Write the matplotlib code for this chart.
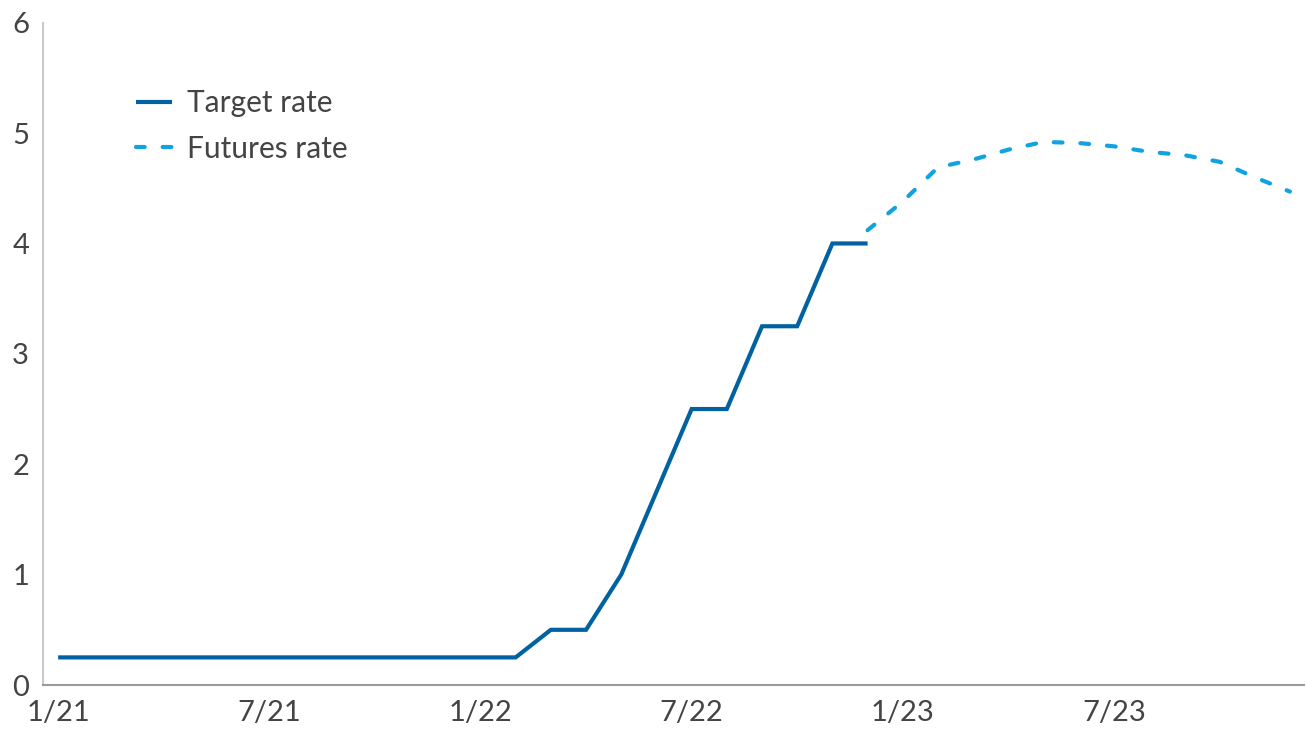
import matplotlib
matplotlib.use("Agg")
import matplotlib.pyplot as plt

# ---- data ----
target_months = list(range(0, 24))
target_rate = [0.25, 0.25, 0.25, 0.25, 0.25, 0.25, 0.25, 0.25, 0.25, 0.25, 0.25, 0.25,
               0.25, 0.25, 0.5, 0.5, 1.0, 1.75, 2.5, 2.5, 3.25, 3.25, 4.0, 4.0]
futures_months = list(range(23, 36))
futures_rate = [4.12, 4.38, 4.69, 4.76, 4.85, 4.92, 4.91, 4.88, 4.83, 4.80, 4.74, 4.60, 4.47]
tick_months = [0, 6, 12, 18, 24, 30]
tick_labels = ["1/21", "7/21", "1/22", "7/22", "1/23", "7/23"]
y_ticks = [0, 1, 2, 3, 4, 5, 6]

plt.rcParams['font.family'] = ['Lato', 'DejaVu Sans']
text_color = '#444444'

fig = plt.figure(figsize=(13.06, 7.31), dpi=100)
ax = fig.add_axes([43/1306, (731-685)/731, (1304-43)/1306, (685-22.7)/731])

ax.plot(target_months, target_rate, color='#0062a1', lw=3.0, solid_capstyle='butt',
        solid_joinstyle='miter', label='Target rate')
ax.plot(futures_months, futures_rate, color='#11a3e0', lw=3.0,
        linestyle=(0, (2.1, 4.3)), dash_capstyle='round', label='Futures rate')

ax.set_xlim(-0.43, 35.4)
ax.set_ylim(0, 6)
ax.set_xticks(tick_months)
ax.set_xticklabels(tick_labels)
ax.set_yticks(y_ticks)
ax.tick_params(axis='both', length=0, labelsize=21, labelcolor=text_color)
ax.tick_params(axis='x', pad=11)
ax.tick_params(axis='y', pad=10)

for s in ['top', 'right']:
    ax.spines[s].set_visible(False)
ax.spines['left'].set_color('#c8c8c8')
ax.spines['left'].set_linewidth(1.5)
ax.spines['bottom'].set_color('#9a9a9a')
ax.spines['bottom'].set_linewidth(1.5)

leg = ax.legend(loc='upper left', bbox_to_anchor=((136-43)/1261, (685-89)/662.3),
                frameon=False, fontsize=21.5, handlelength=1.2, handletextpad=0.5,
                labelspacing=0.6, borderpad=0, borderaxespad=0)
for t in leg.get_texts():
    t.set_color(text_color)

fig.savefig('out.png', dpi=100)
